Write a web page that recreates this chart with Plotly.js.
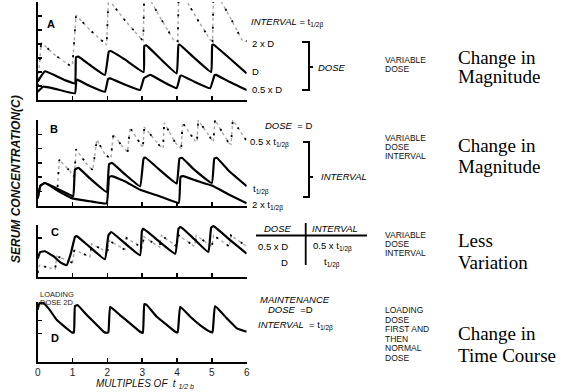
<!DOCTYPE html>
<html><head><meta charset="utf-8">
<script src="https://cdn.plot.ly/plotly-3.0.1.min.js"></script>
<style>html,body{margin:0;padding:0;background:#fff}#chart{width:562px;height:392px}</style>
</head><body><div id="chart"></div>
<script>
// ---------- Panel A : interval = t1/2, variable dose ----------
const aDoseX   = [0,0.07,0.21,0.5,0.8,1.07,1.1,1.17,1.5,1.93,2.04,2.1,2.5,3.04,3.06,3.12,3.5,3.99,4.04,4.08,4.5,4.98,5.01,5.05,5.5,6.0];
const aDoseY   = [1.3,1.6,2.05,1.75,1.4,1.19,3.05,3.1,2.5,1.79,3.45,3.5,2.9,2.0,3.86,3.9,3.0,1.9,3.93,3.95,3.0,2.0,3.93,3.95,3.0,1.9];
const aHalfX   = [0,0.16,0.5,1.07,1.11,1.13,1.5,1.93,2.02,2.08,2.5,2.94,3.05,3.23,3.6,3.99,4.09,4.13,4.5,4.95,5.08,5.12,5.5,6.0];
const aHalfY   = [0.6,0.95,0.8,0.48,1.43,1.45,1.0,0.59,1.5,1.55,1.1,0.71,1.55,1.79,1.3,0.84,1.71,1.75,1.3,0.84,1.79,1.8,1.3,0.71];
const aDoubleX = [0,0.1,0.5,0.93,1.0,1.1,1.5,1.98,2.03,2.5,3.03,3.06,3.56,3.9,4.02,4.05,4.6,4.95,5.02,5.05,5.57,5.86,6.0];
const aDoubleY = [1.0,4.1,3.2,2.45,2.5,6.07,5.0,3.93,7.2,5.7,4.2,7.9,5.7,4.3,4.2,8.0,5.7,4.3,4.2,8.0,5.7,4.3,4.2];
// ---------- Panel B : dose = D, variable interval ----------
const bTX  = [0,0.08,0.21,0.5,0.8,1.02,1.07,1.17,1.5,1.98,2.05,2.13,2.5,2.94,3.04,3.1,3.5,3.99,4.07,4.14,4.5,5.0,5.07,5.14,5.5,6.0];
const bTY  = [0.5,1.4,1.58,1.25,0.9,0.65,2.52,2.64,1.9,0.95,2.9,2.99,2.2,1.35,3.3,3.35,2.5,1.54,3.3,3.35,2.5,1.58,3.3,3.35,2.4,1.35];
const b2TX = [0,0.08,0.21,0.6,1.02,1.5,1.98,2.05,2.13,2.5,2.94,3.5,4.05,4.1,4.18,4.6,5.0,5.5,6.0];
const b2TY = [0.5,1.4,1.58,1.0,0.48,0.3,0.15,2.0,2.06,1.7,1.1,0.65,0.18,2.0,2.06,1.7,1.4,0.75,0.15];
const bHX  = [0.57,0.62,0.93,1.05,1.1,1.45,1.58,1.7,1.93,2.1,2.17,2.46,2.58,2.65,3.02,3.06,3.51,3.6,3.63,3.95,4.12,4.16,4.52,4.57,4.61,5.0,5.04,5.09,5.48,5.55,5.6,6.0];
const bHY  = [1.3,3.2,2.4,1.94,3.95,2.76,2.5,4.63,3.58,3.3,4.99,4.05,3.75,5.46,4.05,5.5,4.17,4.0,5.81,4.4,4.0,5.81,4.52,4.45,6.0,4.52,4.45,6.0,4.4,4.3,6.0,4.52];
// ---------- Panel C : smaller dose, shorter interval ----------
const cDX = [0,0.07,0.21,0.45,0.64,0.83,0.95,1.07,1.12,1.5,1.93,2.03,2.11,2.5,2.94,2.99,3.03,3.5,3.95,4.04,4.1,4.5,4.9,4.98,5.05,5.5,6.0];
const cDY = [1.41,1.92,1.98,1.6,1.15,0.9,1.8,3.08,3.15,2.3,1.36,3.2,3.46,2.6,1.67,3.5,3.72,2.7,1.79,3.7,3.85,2.9,1.92,3.8,3.92,2.9,1.79];
const cHX = [0,0.05,0.5,0.55,1.0,1.05,1.5,1.55,2.0,2.05,2.5,2.55,3.0,3.05,3.5,3.55,4.0,4.05,4.5,4.55,5.0,5.05,5.5,5.55,6.0];
const cHY = [0.3,0.9,0.6,1.6,1.1,2.1,1.55,2.55,1.9,2.8,2.1,3.0,2.25,3.1,2.3,3.2,2.35,3.2,2.35,3.2,2.35,3.2,2.35,3.2,2.35];
// ---------- Panel D : loading dose then maintenance ----------
const dX = [0,0.05,0.16,0.35,0.55,0.83,0.98,1.04,1.07,1.14,1.41,1.7,1.89,1.98,2.03,2.08,2.36,2.65,2.94,3.02,3.06,3.12,3.42,3.71,3.95,4.02,4.09,4.38,4.66,4.95,5.02,5.09,5.43,5.72,6.0];
const dY = [3.8,4.28,4.32,3.77,3.02,2.4,2.1,2.1,4.07,4.15,3.4,2.65,2.15,2.07,2.1,4.02,3.4,2.78,2.15,2.07,4.22,4.18,3.27,2.65,2.15,2.1,4.02,3.27,2.65,2.15,2.1,4.07,3.15,2.4,2.15];
// ---------- axis ticks ----------
const xTickVals = [0,1,2,3,4,5,6];
const xTickText = ['0','1','2','3','4','5','6'];

const W=562,H=392;
const PX=v=>v/W, PY=v=>1-v/H;
const F='Liberation Sans, Arial, sans-serif';
const SER='Liberation Serif, Times New Roman, serif';

function solid(x,y,xa,ya){return {x:x,y:y,xaxis:xa,yaxis:ya,mode:'lines',line:{color:'#000',width:2.2,shape:'spline',smoothing:0.3},hoverinfo:'skip'};}
function dotted(x,y,xa,ya){return [
  {x:x,y:y,xaxis:xa,yaxis:ya,mode:'lines',line:{color:'#a8a8a8',width:1.4,dash:'dot'},hoverinfo:'skip'},
  {x:x,y:y,xaxis:xa,yaxis:ya,mode:'lines',line:{color:'#000',width:1.8,dash:'2px,11px'},hoverinfo:'skip'}
];}

const data = [
  ...dotted(aDoubleX,aDoubleY,'x','y'),
  solid(aDoseX,aDoseY,'x','y'),
  solid(aHalfX,aHalfY,'x','y'),
  ...dotted(bHX,bHY,'x2','y2'),
  solid(bTX,bTY,'x2','y2'),
  solid(b2TX,b2TY,'x2','y2'),
  ...dotted(cHX,cHY,'x3','y3'),
  solid(cDX,cDY,'x3','y3'),
  solid(dX,dY,'x4','y4')
];

const xdom=[PX(37.7),PX(246.7)];
function xax(anchor,labels){return {domain:xdom,anchor:anchor,range:[0,6],showgrid:false,zeroline:false,
  showline:true,linecolor:'#000',linewidth:2,ticks:'inside',ticklen:4,tickwidth:1.5,tickcolor:'#000',
  tickvals:labels?xTickVals:[1,2,3,4,5,6],ticktext:labels?xTickText:undefined,showticklabels:!!labels,
  tickfont:{family:F,size:10,color:'#222'},automargin:false,fixedrange:true};}
function yax(anchor,top,bot,range,tv){return {domain:[PY(bot),PY(top)],anchor:anchor,range:range,showgrid:false,zeroline:false,
  showline:true,linecolor:'#000',linewidth:2,ticks:'inside',ticklen:4,tickwidth:1.5,tickcolor:'#000',
  tickvals:tv,showticklabels:false,automargin:false,fixedrange:true};}

function T(text,x,y,o){return Object.assign({text:text,x:PX(x),y:PY(y),xref:'paper',yref:'paper',xanchor:'left',yanchor:'middle',
  showarrow:false,font:{family:F,size:9.5,color:'#000'}},o||{});}
function S(text,x,y){return T(text,x,y,{font:{family:F,size:8.5,color:'#111'}});}
function BIG(text,x,y){return T(text,x,y,{font:{family:SER,size:19,color:'#000'}});}
function P(text,x,y){return T(text,x,y,{xanchor:'center',font:{family:F,size:11,color:'#000'}});}
const sub='<sub>1/2β</sub>';

const annotations=[
  // y title
  T('<b><i>SERUM CONCENTRATION(C)</i></b>',16,179,{xanchor:'center',textangle:-90,font:{family:F,size:12,color:'#111'}}),
  // panel letters
  P('<b>A</b>',51,24),P('<b>B</b>',54,129),P('<b>C</b>',55,232),P('<b>D</b>',55,338),
  // panel A
  T('<i>INTERVAL</i> = t'+sub,249,22),
  T('2 x D',250,43),T('D',250,71),T('0.5 x D',250,90),
  T('<i>DOSE</i>',316,67),
  S('VARIABLE',383,60),S('DOSE',383,69),
  BIG('Change in',456,57),BIG('Magnitude',456,76),
  // panel B
  T('<i>DOSE</i>  = D',263,126),
  T('0.5 x t'+sub,248,142),
  T('t'+sub,251,189),
  T('2 x t'+sub,250,205),
  T('<i>INTERVAL</i>',319,177),
  S('VARIABLE',383,138),S('DOSE',383,147),S('INTERVAL',383,156),
  BIG('Change in',456,145),BIG('Magnitude',456,167),
  // panel C
  T('<i>DOSE</i>',262,229),T('<i>INTERVAL</i>',310,229),
  T('0.5 x D',256,247),T('0.5 x t'+sub,311,247),
  T('D',284,262,{xanchor:'center'}),T('t'+sub,322,262),
  S('VARIABLE',383,235),S('DOSE',383,244),S('INTERVAL',383,253),
  BIG('Less',456,240),BIG('Variation',456,262),
  // panel D
  T('LOADING',38,294,{font:{family:F,size:7.5,color:'#222'}}),
  T('DOSE 2D',38,302,{font:{family:F,size:7.5,color:'#222'}}),
  T('<i>MAINTENANCE</i>',258,299),
  T('<i>DOSE</i>  =D',266,309),
  T('<i>INTERVAL</i>  = t'+sub,256,325),
  S('LOADING',383,310),S('DOSE',383,320),S('FIRST AND',383,329),S('THEN',383,339),S('NORMAL',383,348),S('DOSE',383,358),
  BIG('Change in',456,333),BIG('Time Course',456,355),
  // x title
  T('<i>MULTIPLES OF  t <sub>1/2 b</sub></i>',145,384,{xanchor:'center',font:{family:F,size:10,color:'#111'}})
];

function L(x0,y0,x1,y1,w){return {type:'line',xref:'paper',yref:'paper',x0:PX(x0),y0:PY(y0),x1:PX(x1),y1:PY(y1),line:{color:'#000',width:w||2}};}
const shapes=[
  // bracket A
  L(309,42,309,90),L(302,42,310,42),L(302,90,310,90),L(309,67,313,67),
  // bracket B
  L(309,142,309,197),L(303,142,310,142),L(303,197,310,197),L(309,177,313,177),
  // table C
  L(256,235.5,367,235.5,1.8),L(305.7,223,305.7,265,1.8)
];

const layout={width:W,height:H,margin:{l:0,r:0,t:0,b:0},paper_bgcolor:'#fff',plot_bgcolor:'rgba(0,0,0,0)',showlegend:false,
  xaxis:xax('y',false),  yaxis:yax('x',2,100,[0,7],[1,2,3,4,5,6,7]),
  xaxis2:xax('y2',false),yaxis2:yax('x2',120,205.5,[0,6],[1,2,3,4,5,6]),
  xaxis3:xax('y3',false),yaxis3:yax('x3',225,277,[0,4],[3,4]),
  xaxis4:xax('y4',true), yaxis4:yax('x4',301.7,361.7,[-0.1,4.4],[2,3,4.4]),
  annotations:annotations,shapes:shapes};

Plotly.newPlot('chart',data,layout,{staticPlot:true,displayModeBar:false});
</script></body></html>
